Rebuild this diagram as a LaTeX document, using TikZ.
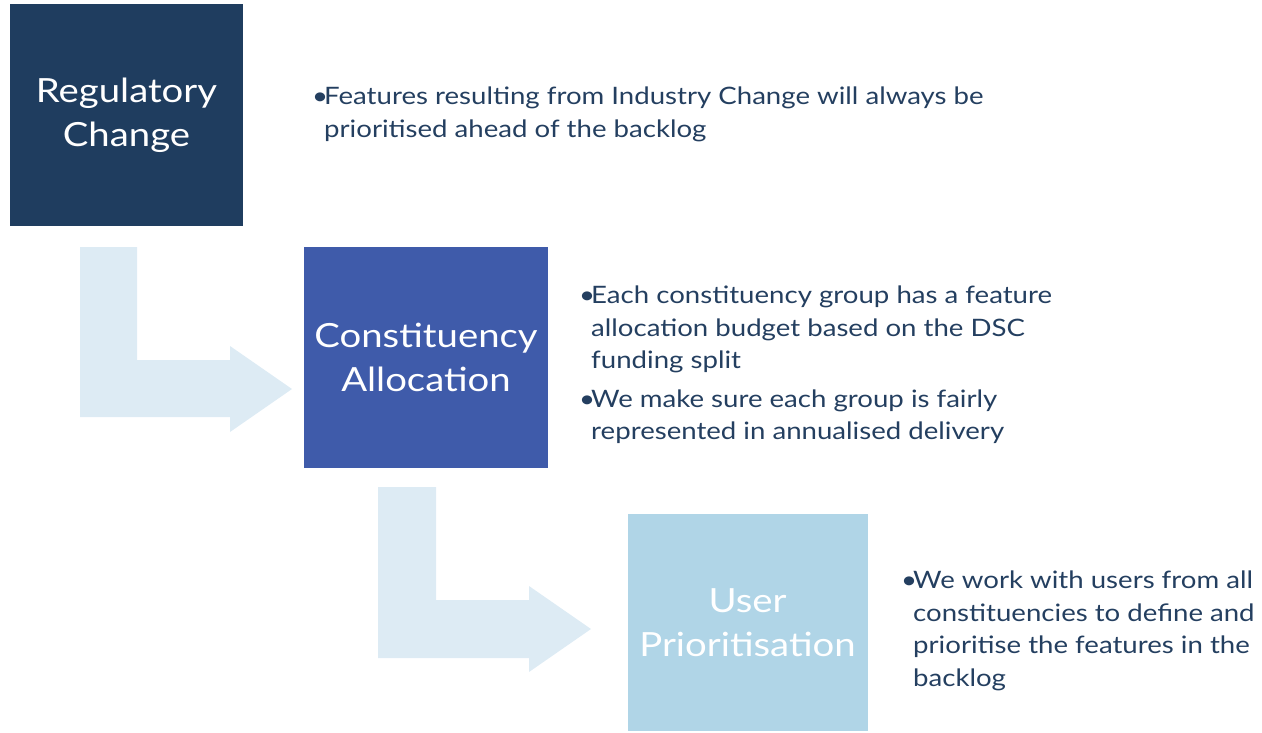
\documentclass[tikz,border=0pt]{standalone}
\usepackage{fontspec}
\setmainfont{Lato}[FakeStretch=1.15]
\usepackage{tikz}
\usetikzlibrary{positioning, calc}
\definecolor{navy}{HTML}{1F3D5F}
\definecolor{midblue}{HTML}{3F5BAA}
\definecolor{paleblue}{HTML}{B0D5E7}
\definecolor{arrowblue}{HTML}{DDEBF4}
\definecolor{textblue}{HTML}{243F60}
\newcommand{\bul}{\makebox[12pt][l]{\textbullet}}
\newcommand{\ind}{\hspace*{12pt}}

\begin{document}
\begin{tikzpicture}[x=1pt, y=-1pt,
    stagebox/.style={inner sep=0pt, text=white, align=center,
      font=\fontsize{33.3}{44}\selectfont},
    bullettext/.style={anchor=north west, inner sep=0pt, align=left,
      text=textblue, font=\fontsize{24}{32.5}\selectfont}]
    \useasboundingbox (0,0) rectangle (1262,732);

    % the three stages
    \node [stagebox, fill=navy, minimum width=233pt, minimum height=222pt] (reg) at (126.5,115) {Regulatory\\Change};
    \node [stagebox, fill=midblue, minimum width=244pt, minimum height=221pt] (con) at (426,357.5) {Constituency\\Allocation};
    \node [stagebox, fill=paleblue, minimum width=240pt, minimum height=217pt] (usr) at (747.5,622.5) {User\\Prioritisation};

    % bent arrows between the stages
    \fill [arrowblue] (80,247) -- ++(57,0) -- ++(0,113) -- ++(93,0) -- ++(0,-14)
        -- ++(62,43) -- ++(-62,43) -- ++(0,-15) -- ++(-150,0) -- cycle;
    \fill [arrowblue] (378,487) -- ++(58,0) -- ++(0,113) -- ++(93,0) -- ++(0,-14)
        -- ++(62,43) -- ++(-62,43) -- ++(0,-14) -- ++(-151,0) -- cycle;

    % bullet texts
    \node [bullettext] (regtxt) at (312,87) {\bul Features resulting from Industry Change will always be\\
        \ind prioritised ahead of the backlog};
    \node [bullettext] (context) at (579,286) {\bul Each constituency group has a feature\\
        \ind allocation budget based on the DSC\\
        \ind funding split\\[6pt]
        \bul We make sure each group is fairly\\
        \ind represented in annualised delivery};
    \node [bullettext] (usrtxt) at (901,571) {\bul We work with users from all\\
        \ind constituencies to define and\\
        \ind prioritise the features in the\\
        \ind backlog};
\end{tikzpicture}
\end{document}
